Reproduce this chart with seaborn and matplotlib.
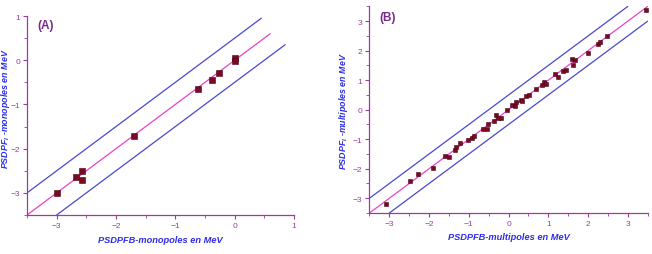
import seaborn as sns
import matplotlib.pyplot as plt
import pandas as pd
from matplotlib.ticker import MultipleLocator

sns.set_theme(style="white")
plt.rcParams['font.family'] = ['Liberation Sans', 'DejaVu Sans']
plt.rcParams['mathtext.fontset'] = 'custom'
plt.rcParams['mathtext.it'] = 'Liberation Sans:italic:bold'

# --- Datos (A) monopoles ---
mono_x = [-3.0, -2.67, -2.57, -2.57, -1.69, -0.62, -0.39, -0.26, 0.01, 0.01]
mono_y = [-3.0, -2.65, -2.50, -2.70, -1.72, -0.64, -0.44, -0.28, 0.06, -0.02]

# --- Datos (B) multipoles ---
multi_x = [-3.09, -2.48, -2.27, -1.91, -1.59, -1.49, -1.34, -1.31, -1.21, -1.01,
           -0.91, -0.86, -0.65, -0.55, -0.52, -0.36, -0.32, -0.26, -0.20, -0.04,
           0.08, 0.17, 0.20, 0.31, 0.35, 0.44, 0.52, 0.69, 0.84, 0.90,
           0.94, 1.17, 1.25, 1.38, 1.44, 1.61, 1.63, 1.68, 2.00, 2.24,
           2.30, 2.49, 3.46]
multi_y = [-3.19, -2.42, -2.18, -1.98, -1.57, -1.61, -1.36, -1.25, -1.14, -1.02,
           -0.97, -0.88, -0.66, -0.66, -0.47, -0.38, -0.18, -0.29, -0.27, -0.02,
           0.16, 0.14, 0.25, 0.34, 0.29, 0.46, 0.50, 0.72, 0.83, 0.95,
           0.88, 1.22, 1.10, 1.31, 1.36, 1.73, 1.53, 1.67, 1.94, 2.23,
           2.30, 2.50, 3.39]

# droites y=x et bandes +/- 0.5 MeV
a_diag_x, a_diag_y = [-3.5, 0.6], [-3.5, 0.6]
a_up_x, a_up_y = [-3.5, 0.45], [-3.0, 0.95]
a_lo_x, a_lo_y = [-3.0, 0.85], [-3.5, 0.35]
b_diag_x, b_diag_y = [-3.5, 3.5], [-3.5, 3.5]
b_up_x, b_up_y = [-3.5, 3.0], [-3.0, 3.5]
b_lo_x, b_lo_y = [-3.0, 3.5], [-3.5, 3.0]

PINK = '#e843c8'
BLUE = '#4a48d0'
PURPLE = '#9a3c9e'
LABEL = '#2d2ee8'
MARK = '#7a0a24'

fig = plt.figure(figsize=(6.52, 2.55), dpi=100)
ax1 = fig.add_axes([0.0414, 0.1529, 0.4095, 0.7804])
ax2 = fig.add_axes([0.5667, 0.1608, 0.4265, 0.8098])


def panel(ax, px, py, diag, up, lo, lims_x, lims_y, xlabel, ylabel, tag, tag_pos,
          ms, ylab_pos):
    sns.lineplot(x=up[0], y=up[1], ax=ax, color=BLUE, lw=0.9, sort=False)
    sns.lineplot(x=lo[0], y=lo[1], ax=ax, color=BLUE, lw=0.9, sort=False)
    sns.lineplot(x=diag[0], y=diag[1], ax=ax, color=PINK, lw=0.9, sort=False)
    sns.scatterplot(x=px, y=py, ax=ax, marker='s', s=ms, color=MARK,
                    edgecolor='#4a0010', linewidth=0.4, zorder=5)
    ax.set_xlim(*lims_x)
    ax.set_ylim(*lims_y)
    for s in ['top', 'right']:
        ax.spines[s].set_visible(False)
    for s in ['left', 'bottom']:
        ax.spines[s].set_color(PURPLE)
        ax.spines[s].set_linewidth(0.9)
    ax.xaxis.set_major_locator(MultipleLocator(1))
    ax.yaxis.set_major_locator(MultipleLocator(1))
    ax.xaxis.set_minor_locator(MultipleLocator(0.5))
    ax.yaxis.set_minor_locator(MultipleLocator(0.5))
    ax.tick_params(which='both', direction='out', color=PURPLE, labelcolor=PURPLE,
                   labelsize=6, bottom=True, left=True)
    ax.tick_params(which='major', length=3, width=0.8, pad=2)
    ax.tick_params(which='minor', length=2, width=0.6)
    ax.set_xlabel(xlabel, color=LABEL, fontsize=6.7, fontweight='bold',
                  fontstyle='italic', labelpad=4)
    ax.set_ylabel(ylabel, color=LABEL, fontsize=6.4, fontweight='bold',
                  fontstyle='italic')
    ax.yaxis.set_label_coords(*ylab_pos)
    ax.text(tag_pos[0], tag_pos[1], tag, transform=ax.transAxes, color='#7a2a8a',
            fontsize=8.5, fontweight='bold', va='center', ha='left')


panel(ax1, mono_x, mono_y, (a_diag_x, a_diag_y), (a_up_x, a_up_y), (a_lo_x, a_lo_y),
      (-3.5, 1), (-3.5, 1), 'PSDPFB-monopoles en MeV',
      r'PSDPF$_{I}$ -monopoles en MeV', '(A)', (0.04, 0.955), 18, (-0.057, 0.54))
panel(ax2, multi_x, multi_y, (b_diag_x, b_diag_y), (b_up_x, b_up_y), (b_lo_x, b_lo_y),
      (-3.5, 3.5), (-3.5, 3.5), 'PSDPFB-multipoles en MeV',
      r'PSDPF$_{I}$ -multipoles en MeV', '(B)', (0.035, 0.95), 12, (-0.07, 0.5))

fig.savefig('out.png', dpi=100)
